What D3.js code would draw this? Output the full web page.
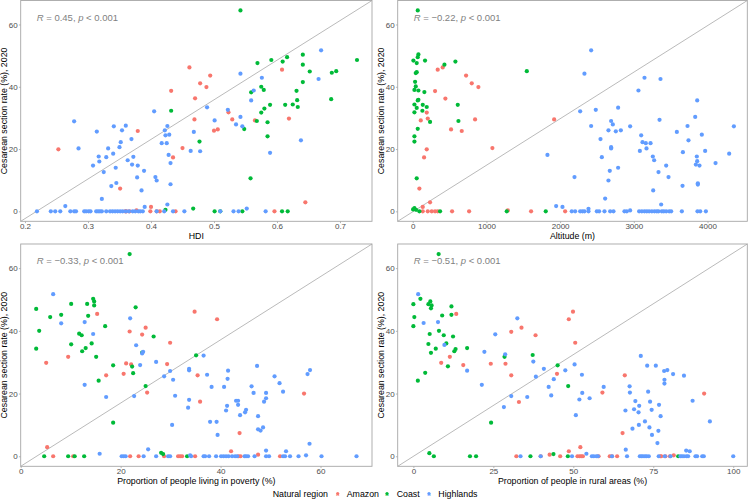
<!DOCTYPE html>
<html><head><meta charset="utf-8">
<script src="https://cdn.jsdelivr.net/npm/d3@7"></script>
<style>body{margin:0;background:#fff}svg{display:block}text{font-family:"Liberation Sans",Arial,sans-serif}</style>
</head><body><svg id="c" width="750" height="499"></svg>
<script>
// ---------- DATA ----------
const regions = ["Amazon","Coast","Highlands"];
const regionColors = ["#F8766D","#00BA38","#619CFF"];
const yTicks = [0,20,40,60];
const yTitle = "Cesarean section rate (%), 2020";
const xTitles = ["HDI","Altitude (m)","Proportion of people living in poverty (%)","Proportion of people in rural areas (%)"];
const xTicks = [[0.2,0.3,0.4,0.5,0.6,0.7],[0,1000,2000,3000,4000],[0,20,40,60],[0,25,50,75,100]];
const corrR = ["0.45","\u22120.22","\u22120.33","\u22120.51"];
const corrP = "0.001";

// Panel 1: HDI
const hdiAmazon = [[0.253,19.9],[0.351,7.3],[0.379,25.8],[0.400,1.4],[0.432,38.7],[0.435,17.3],[0.450,20.3],[0.461,46.2],[0.469,29.5],[0.470,36.3],[0.478,41.1],[0.488,39.9],[0.494,43.6],[0.500,25.9],[0.506,26.3],[0.523,31.8],[0.529,29.5],[0.565,29.2],[0.608,45.5],[0.619,29.8],[0.645,2.9],[0.359,0],[0.361,0],[0.366,0],[0.377,0.3],[0.399,0],[0.409,0],[0.414,0],[0.439,0],[0.596,0]];
const hdiCoast = [[0.542,64.5],[0.432,32.3],[0.477,22.4],[0.548,26.4],[0.558,10.6],[0.559,38.2],[0.568,29.0],[0.569,47.6],[0.575,40.0],[0.575,31.7],[0.579,39.0],[0.580,33.0],[0.585,28.6],[0.585,24.1],[0.589,34.2],[0.591,48.6],[0.609,48.1],[0.613,34.2],[0.616,49.5],[0.625,34.3],[0.631,38.7],[0.632,35.7],[0.633,33.5],[0.641,50.3],[0.641,47.1],[0.641,41.5],[0.652,44.9],[0.686,36.0],[0.687,44.5],[0.694,45.0],[0.727,48.6],[0.423,0.5],[0.467,0.9],[0.501,0],[0.510,0],[0.545,0],[0.608,0],[0.617,0]];
const hdiHighlands = [[0.219,0],[0.241,0],[0.248,0],[0.256,0],[0.264,1.7],[0.272,0],[0.278,0],[0.281,0],[0.278,28.9],[0.285,20.2],[0.308,14.7],[0.314,25.6],[0.317,17.6],[0.318,16.0],[0.322,4.0],[0.325,12.6],[0.329,17.4],[0.332,20.2],[0.337,8.1],[0.340,18.5],[0.341,27.3],[0.344,14.0],[0.345,9.1],[0.350,20.6],[0.352,22.2],[0.354,26.0],[0.360,27.5],[0.363,16.4],[0.369,23.2],[0.370,15.0],[0.372,17.5],[0.378,10.9],[0.379,14.7],[0.385,6.7],[0.389,13.0],[0.390,1.4],[0.405,32.1],[0.407,11.0],[0.409,9.9],[0.417,21.9],[0.422,26.0],[0.423,24.4],[0.425,21.9],[0.426,27.4],[0.426,2.2],[0.428,18.1],[0.429,24.6],[0.431,15.5],[0.431,8.7],[0.435,0],[0.453,0],[0.463,19.4],[0.468,25.5],[0.478,19.3],[0.489,33.4],[0.501,29.2],[0.510,0],[0.522,32.6],[0.531,0],[0.535,27.9],[0.539,0],[0.542,44.2],[0.542,30.3],[0.545,27.3],[0.552,0.9],[0.559,35.6],[0.563,38.8],[0.576,42.9],[0.582,0],[0.589,18.8],[0.638,22.8],[0.666,42.5],[0.670,51.7],[0.294,0],[0.297,0],[0.301,0],[0.304,0],[0.313,0],[0.316,0],[0.319,0],[0.322,0],[0.329,0],[0.335,0],[0.339,0],[0.343,0],[0.347,0],[0.351,0],[0.355,0],[0.360,0],[0.365,0],[0.371,0],[0.375,0],[0.380,0],[0.383,0],[0.387,0],[0.409,0],[0.421,0]];

// Panel 2: Altitude
const altAmazon = [[339,45.5],[407,46.2],[443,36.2],[303,38.6],[724,43.6],[801,41.1],[891,39.9],[846,29.5],[520,26.3],[665,25.8],[190,31.7],[204,29.8],[109,29.2],[190,19.9],[154,17.3],[90,7.3],[1081,20.3],[1919,29.5],[235,2.9],[136,1.4],[136,0],[204,0],[258,0],[303,0],[339,0],[534,0],[765,0],[1290,0.3],[1606,0],[2068,0]];
const altCoast = [[68,64.5],[9,48.4],[68,49.5],[54,47.6],[77,50.4],[41,44.4],[54,44.7],[32,41.6],[41,40.1],[23,39.0],[77,38.8],[158,38.3],[167,48.4],[430,47.1],[579,48.1],[77,35.8],[68,35.6],[23,34.3],[136,34.2],[54,33.2],[190,33.5],[23,31.8],[131,32.3],[611,34.2],[620,29.0],[235,28.7],[68,26.5],[23,24.1],[23,22.4],[54,10.6],[1548,45.0],[5,0.6],[23,1.0],[45,0.5],[90,0],[371,0],[1276,0],[1805,0]];
const altHighlands = [[2421,51.7],[2330,44.2],[2272,32.1],[2484,32.6],[2421,27.4],[2656,26.0],[2692,29.0],[2715,27.9],[2756,25.7],[2787,33.3],[2824,26.0],[2950,27.3],[2692,20.6],[2692,20.2],[2548,23.2],[2566,17.4],[2195,11.0],[2656,9.9],[2674,13.0],[2787,14.0],[1828,18.1],[2611,4.1],[1946,1.7],[2032,1.4],[3063,38.8],[3145,42.9],[3362,42.5],[3349,29.4],[3100,24.4],[3082,19.4],[3118,22.2],[3163,21.9],[3172,20.2],[3227,21.9],[3258,17.6],[3276,16.4],[3263,6.7],[3335,12.6],[3439,14.7],[3471,11.0],[3371,2.2],[3584,25.5],[3666,19.0],[3661,8.2],[3729,27.4],[3742,22.8],[3833,30.3],[3860,35.6],[3855,17.6],[3842,15.0],[3860,16.1],[3869,9.0],[3869,8.6],[3891,14.7],[3923,24.6],[3968,19.4],[4109,15.5],[4294,18.5],[4358,27.3],[2158,0],[2204,0],[2272,0],[2303,0],[2330,0],[2385,0.8],[2385,0],[2498,0],[2529,0],[2602,0],[2679,0],[2724,0],[2873,0],[2905,0],[2950,0.3],[3072,0],[3109,0],[3145,0],[3177,0],[3208,0],[3245,0],[3281,0],[3312,0],[3335,0],[3380,0],[3407,0],[3439,0],[3480,0],[3507,0],[3652,0],[3864,0],[3901,0],[3978,0]];

// Panel 3: Poverty
const povAmazon = [[5.1,29.8],[5.3,2.9],[6.5,0],[9.5,31.7],[10.5,0],[15.3,45.4],[17.1,25.8],[20.6,26.3],[21.1,29.6],[21.8,39.8],[22.1,29.3],[21.9,0],[23.6,0],[24.3,38.8],[25.0,41.0],[25.3,20.3],[28.7,0],[29.3,29.4],[29.9,36.2],[31.5,0],[31.9,0],[32.3,0],[34.8,46.1],[34.9,0],[35.4,25.8],[35.9,17.4],[39.3,43.7],[42.1,1.6],[43.8,7.4],[43.6,0],[44.0,0],[47.5,0.5],[51.9,0],[56.7,20.0]];
const povCoast = [[21.8,64.5],[3.1,47.0],[3.7,40.0],[3.1,34.3],[5.9,44.4],[8.1,45.1],[10.1,48.6],[10.1,35.7],[11.7,39.1],[12.2,38.6],[12.3,33.5],[13.0,34.5],[13.3,48.6],[13.5,44.8],[14.5,50.2],[14.7,49.4],[14.7,48.1],[14.2,36.0],[15.1,31.7],[15.6,24.1],[16.9,41.5],[18.5,29.0],[18.5,10.7],[22.3,28.6],[22.5,26.5],[23.0,47.5],[24.3,33.1],[25.0,22.4],[26.6,38.2],[35.1,32.2],[4.7,0],[9.5,0],[10.8,0],[12.7,0],[28.1,1.1],[28.5,0.7],[33.3,0]];
const povHighlands = [[6.5,51.7],[8.1,42.4],[12.8,42.8],[12.8,22.8],[14.5,39.0],[15.8,0.8],[17.1,18.9],[21.9,44.0],[22.7,19.2],[23.1,35.4],[23.9,29.1],[24.3,32.8],[24.5,33.3],[25.5,2.2],[27.1,30.1],[28.7,25.5],[29.9,27.2],[30.3,10.0],[30.5,24.4],[30.9,19.3],[33.5,15.5],[33.7,27.9],[33.7,27.4],[33.7,18.0],[36.6,32.1],[37.3,26.0],[37.9,11.0],[38.2,22.1],[39.2,11.0],[39.4,6.8],[40.7,22.1],[41.1,14.6],[41.3,16.1],[41.4,24.7],[41.5,27.3],[43.1,17.7],[43.5,17.7],[43.5,16.4],[43.9,13.1],[44.9,14.0],[45.1,14.8],[46.2,22.3],[46.6,20.2],[47.3,28.8],[47.5,12.8],[47.5,8.6],[48.0,8.2],[48.5,9.2],[48.7,17.4],[49.1,18.5],[49.1,20.2],[49.1,1.8],[50.8,25.5],[51.8,23.3],[52.5,20.6],[53.1,1.6],[57.4,26.2],[57.9,27.5],[57.8,4.0],[20.2,0],[20.6,0],[21.0,0],[24.6,0],[27.1,0],[29.5,0],[29.9,0],[33.9,0.3],[34.1,0],[36.6,0],[36.9,0],[37.7,0],[39.1,0],[40.1,0],[40.6,0],[41.1,0],[41.6,0],[42.3,0],[42.9,0],[43.3,0],[44.8,0],[45.1,0],[45.5,0],[46.8,0],[49.1,0],[49.7,0],[52.5,0],[52.9,0],[53.9,0],[55.6,0],[57.1,0.3],[60.2,0],[67.2,0]];

// Panel 4: Rural
const ruralAmazon = [[13.4,45.4],[11.4,31.7],[8.7,29.8],[15.6,29.1],[24.2,29.5],[28.8,29.5],[30.6,39.7],[30.6,25.8],[33.8,41.0],[33.0,17.3],[38.2,38.6],[44.9,26.3],[48.6,43.7],[49.9,46.1],[50.6,36.2],[59.1,20.3],[65.4,7.4],[66.1,25.8],[90.9,20.0],[48.6,1.6],[52.2,2.9],[32.2,0],[39.8,0],[42.6,0.5],[45.9,0],[51.3,0],[52.0,0],[52.5,0],[53.0,0],[57.9,0],[61.4,0],[62.1,0],[63.7,0],[77.2,0],[77.5,0],[78.8,0],[80.2,0],[81.4,0.3]];
const ruralCoast = [[7.9,64.5],[0,48.5],[0.3,44.4],[0,41.5],[2.2,50.2],[4.7,48.5],[5.3,49.4],[5.5,47.2],[5.7,48.1],[9.0,44.9],[9.5,38.6],[11.9,47.8],[11.9,45.1],[12.4,38.2],[10.3,36.0],[12.8,33.5],[13.2,34.2],[7.0,34.3],[5.5,33.0],[4.7,35.8],[5.1,39.0],[8.0,40.0],[1.4,24.1],[3.7,26.6],[10.8,28.7],[16.8,34.5],[28.5,31.7],[37.3,32.3],[45.1,29.0],[48.4,22.4],[24.3,10.7],[5.0,1.0],[6.4,0],[17.7,0],[19.6,0],[36.6,0],[43.8,0.7],[48.3,0],[82.8,0]];
const ruralHighlands = [[1.5,51.7],[3.2,42.5],[7.7,42.8],[9.7,35.5],[16.8,27.3],[21.4,22.8],[22.2,33.3],[25.6,38.9],[28.7,32.5],[28.3,15.7],[30.6,19.2],[32.5,44.0],[35.6,18.9],[37.5,30.2],[38.3,25.4],[40.8,27.9],[42.3,22.1],[43.1,19.4],[43.9,24.6],[47.5,27.4],[50.4,29.3],[50.8,13.1],[51.9,18.1],[52.7,26.0],[52.8,20.2],[55.1,18.5],[54.1,0.8],[59.5,22.1],[71.1,32.0],[66.3,14.6],[66.4,2.1],[67.6,22.3],[67.7,20.3],[68.5,8.8],[69.0,15.0],[69.4,17.6],[70.4,14.0],[70.6,16.1],[70.5,10.0],[72.4,11.1],[73.1,28.9],[73.4,20.6],[73.8,9.2],[74.0,17.4],[74.5,14.8],[74.6,6.8],[75.8,28.9],[76.3,4.2],[76.6,8.1],[76.8,16.4],[77.3,12.8],[78.4,27.2],[78.5,24.4],[78.5,23.2],[79.4,27.5],[81.2,26.2],[84.6,25.7],[87.3,17.7],[92.7,11.1],[85.3,1.8],[86.4,1.6],[33.5,0],[39.8,0],[49.6,0],[55.8,0],[56.4,0],[57.2,0],[57.7,0],[62.1,0],[66.8,0],[70.8,0],[71.3,0],[71.8,0],[72.4,0],[72.9,0],[73.6,0],[76.7,0],[78.6,0],[80.4,0],[83.5,0],[84.0,0],[84.6,0],[85.4,0],[85.9,0],[88.2,0],[88.7,0],[90.3,0],[90.8,0],[100,0]];

const panelData = [
  [hdiAmazon, hdiCoast, hdiHighlands],
  [altAmazon, altCoast, altHighlands],
  [povAmazon, povCoast, povHighlands],
  [ruralAmazon, ruralCoast, ruralHighlands]
];

// ---------- LAYOUT ----------
const panels = [
  {x0:20.7, x1:372,   y0:0.5, y1:221.3, xdom:[0.1932,0.7508], fmt:d3.format(".1f")},
  {x0:397.7,x1:747.3, y0:0.5, y1:221.3, xdom:[-204,4540],     fmt:d3.format("d")},
  {x0:20.7, x1:372,   y0:244, y1:466.3, xdom:[0,70.3],        fmt:d3.format("d")},
  {x0:397.7,x1:747.3, y0:244, y1:466.3, xdom:[-4.9,104.4],    fmt:d3.format("d")}
];
const yDom = [-3.2, 67.7];

const svg = d3.select("#c");
const tickCol = "#4d4d4d";

panels.forEach((p, i) => {
  const x = d3.scaleLinear().domain(p.xdom).range([p.x0, p.x1]);
  const y = d3.scaleLinear().domain(yDom).range([p.y1, p.y0]);
  const g = svg.append("g");

  // diagonal reference line (corner to corner)
  g.append("line").attr("x1", x(p.xdom[0])).attr("y1", y(yDom[0]))
    .attr("x2", x(p.xdom[1])).attr("y2", y(yDom[1]))
    .attr("stroke", "#8c8c8c").attr("stroke-width", 0.6);

  // points
  panelData[i].forEach((arr, k) => {
    g.append("g").selectAll("circle").data(arr).join("circle")
      .attr("cx", d => x(d[0])).attr("cy", d => y(d[1])).attr("r", 2.1)
      .attr("fill", regionColors[k]);
  });

  // border
  g.append("rect").attr("x", p.x0).attr("y", p.y0).attr("width", p.x1 - p.x0).attr("height", p.y1 - p.y0)
    .attr("fill", "none").attr("stroke", "#a6a6a6").attr("stroke-width", 0.9);

  // x axis
  const xa = g.append("g").attr("transform", `translate(0,${p.y1})`)
    .call(d3.axisBottom(x).tickValues(xTicks[i]).tickFormat(p.fmt).tickSize(1.8).tickPadding(0.6));
  xa.select(".domain").remove();
  xa.selectAll("line").attr("stroke", "#a6a6a6").attr("stroke-width", 0.8);
  xa.selectAll("text").attr("fill", tickCol).style("font-size", "8px").style("font-family", "Liberation Sans, Arial, sans-serif");

  // y axis
  const ya = g.append("g").attr("transform", `translate(${p.x0},0)`)
    .call(d3.axisLeft(y).tickValues(yTicks).tickFormat(d3.format("d")).tickSize(1.8).tickPadding(1.2));
  ya.select(".domain").remove();
  ya.selectAll("line").attr("stroke", "#a6a6a6").attr("stroke-width", 0.8);
  ya.selectAll("text").attr("fill", tickCol).style("font-size", "8px").style("font-family", "Liberation Sans, Arial, sans-serif");

  // axis titles
  g.append("text").attr("x", (p.x0 + p.x1) / 2).attr("y", p.y1 + 17.8)
    .attr("text-anchor", "middle").style("font-size", "8.8px").attr("fill", "#000").text(xTitles[i]);
  g.append("text").attr("transform", `translate(${p.x0 - 13.5},${(p.y0 + p.y1) / 2}) rotate(-90)`)
    .attr("text-anchor", "middle").style("font-size", "8.8px").attr("fill", "#000").text(yTitle);

  // correlation label
  const t = g.append("text").attr("x", p.x0 + 16).attr("y", p.y0 + 20)
    .style("font-size", "9.5px").attr("fill", "#7f7f7f");
  t.append("tspan").attr("font-style", "italic").text("R");
  t.append("tspan").text(" = " + corrR[i] + ", ");
  t.append("tspan").attr("font-style", "italic").text("p");
  t.append("tspan").text(" < " + corrP);
});

// legend
const lg = svg.append("g");
lg.append("text").attr("x", 272.7).attr("y", 496.5).style("font-size", "8.8px").text("Natural region");
const keyX = [337.7, 387, 429];
const labX = [346.7, 396.7, 438.3];
regions.forEach((r, k) => {
  lg.append("circle").attr("cx", keyX[k]).attr("cy", 493.5).attr("r", 1.6).attr("fill", regionColors[k]);
  lg.append("text").attr("x", keyX[k]).attr("y", 496).attr("text-anchor", "middle")
    .style("font-size", "6px").attr("fill", regionColors[k]).text("a");
  lg.append("text").attr("x", labX[k]).attr("y", 496.5).style("font-size", "8.8px").text(r);
});
</script>
</body></html>
